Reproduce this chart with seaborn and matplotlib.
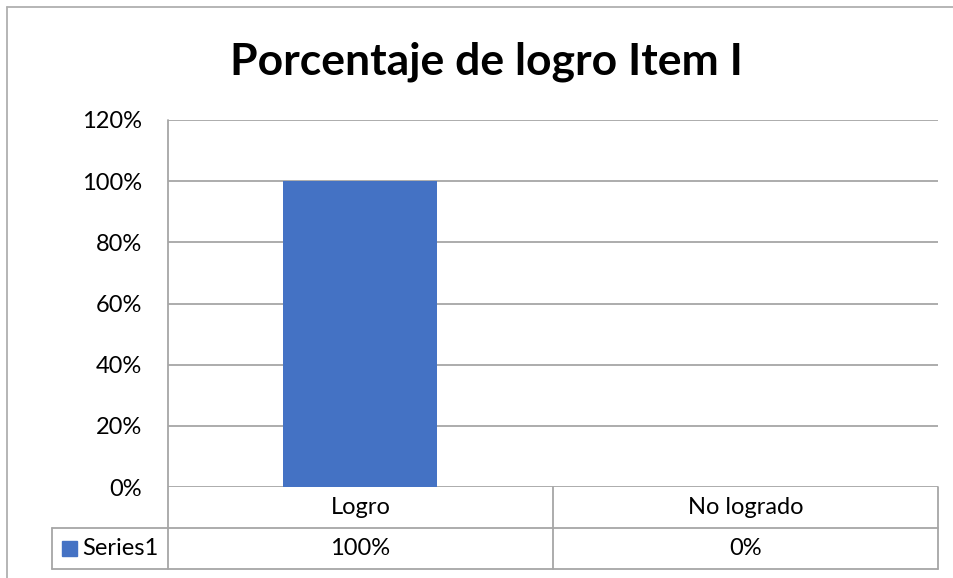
import matplotlib
matplotlib.use("Agg")
import matplotlib.pyplot as plt
import matplotlib.transforms as mtransforms
from matplotlib.lines import Line2D
from matplotlib.patches import Rectangle
import seaborn as sns
import pandas as pd

categories = ["Logro", "No logrado"]
values = [1.00, 0.00]
series_name = "Series1"
title = "Porcentaje de logro Item I"
yticks = [0.0, 0.2, 0.4, 0.6, 0.8, 1.0, 1.2]

sns.set_theme(style="white")
plt.rcParams['font.family'] = ['Lato', 'DejaVu Sans']

W, H = 954, 578
fig = plt.figure(figsize=(W / 100, H / 100), dpi=100)

def fx(px):
    return px / W

def fy(py):
    return 1 - py / H

left, right, top, bottom = 168, 938, 120, 487
ax = fig.add_axes([fx(left), fy(bottom), fx(right) - fx(left), fy(top) - fy(bottom)])

df = pd.DataFrame({"cat": categories, "val": values})
bar_color = "#4472C4"
sns.barplot(data=df, x="cat", y="val", color=bar_color, width=0.4, ax=ax,
            saturation=1, zorder=3, linewidth=0, edgecolor=bar_color)

ax.set_ylim(0, 1.2)
ax.set_xlim(-0.5, 1.5)
ax.set_yticks(yticks)
ax.set_yticklabels([f"{int(round(t*100))}%" for t in yticks], fontsize=17, color="black")
ax.tick_params(axis="y", length=0, pad=18.5)
ax.set_xticks([])
ax.set_xlabel("")
ax.set_ylabel("")
for s in ["top", "right", "bottom", "left"]:
    ax.spines[s].set_visible(False)

grid_color = "#a6a6a6"
for t in yticks:
    ax.axhline(t, color=grid_color, lw=1.3, zorder=1)

# Data table drawn in figure pixel coords
line_kw = dict(color=grid_color, lw=1.3, transform=fig.transFigure)
row1_bot = 528
row2_bot = 569
leg_left = 52
mid = 553
fig.add_artist(Line2D([fx(left), fx(left)], [fy(top), fy(row2_bot)], **line_kw))
fig.add_artist(Line2D([fx(mid), fx(mid)], [fy(bottom), fy(row2_bot)], **line_kw))
fig.add_artist(Line2D([fx(right), fx(right)], [fy(bottom), fy(row2_bot)], **line_kw))
fig.add_artist(Line2D([fx(leg_left), fx(leg_left)], [fy(row1_bot), fy(row2_bot)], **line_kw))
fig.add_artist(Line2D([fx(leg_left), fx(right)], [fy(row1_bot), fy(row1_bot)], **line_kw))
fig.add_artist(Line2D([fx(leg_left), fx(right)], [fy(row2_bot), fy(row2_bot)], **line_kw))

trans = mtransforms.blended_transform_factory(ax.transData, fig.transFigure)
for i, (c, v) in enumerate(zip(categories, values)):
    ax.text(i, fy((bottom + row1_bot) / 2), c, transform=trans, ha="center", va="center",
            fontsize=17, color="black", clip_on=False)
    ax.text(i, fy((row1_bot + row2_bot) / 2), f"{int(round(v*100))}%", transform=trans,
            ha="center", va="center", fontsize=17, color="black", clip_on=False)

fig.add_artist(Rectangle((fx(62), fy(556)), fx(15), fy(541) - fy(556),
                         transform=fig.transFigure, color=bar_color))
fig.text(fx(82), fy((row1_bot + row2_bot) / 2), series_name, ha="left", va="center",
         fontsize=17, color="black")

fig.text(fx(486), fy(62), title, ha="center", va="center", fontsize=32,
         fontweight="bold", color="black")

fig.add_artist(Line2D([fx(7), fx(7)], [fy(7), 0], color="#b0b0b0", lw=1.3, transform=fig.transFigure))
fig.add_artist(Line2D([fx(7), 1], [fy(7), fy(7)], color="#b0b0b0", lw=1.3, transform=fig.transFigure))

fig.savefig("out.png", dpi=100, facecolor="white")
